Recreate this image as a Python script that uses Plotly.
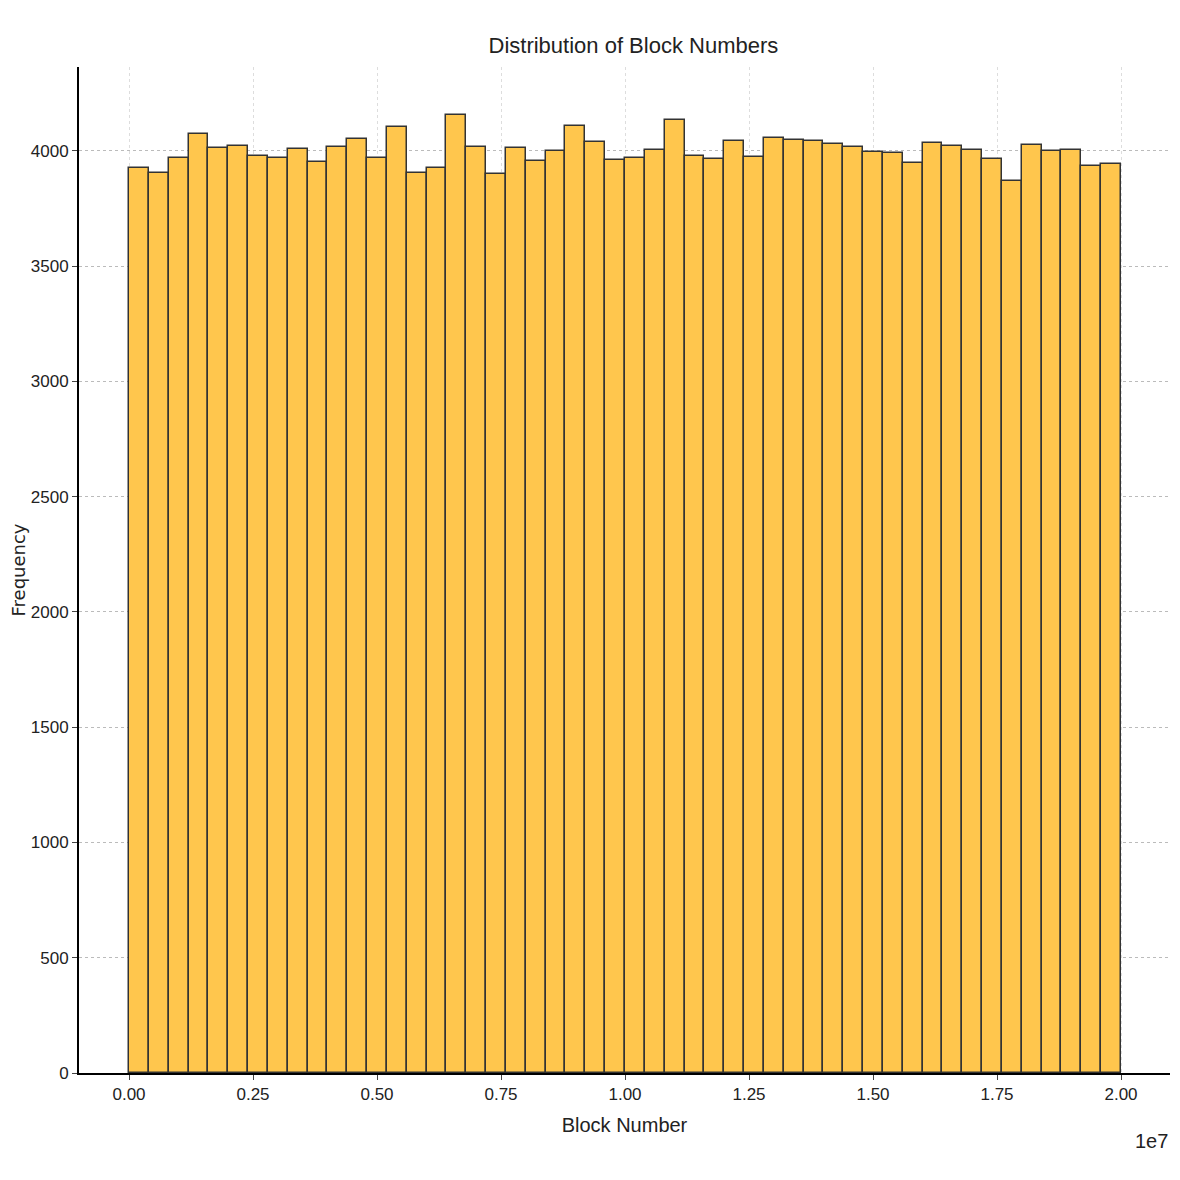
import plotly.graph_objects as go

bin_width = 400000
bin_starts = [i * bin_width for i in range(50)]
counts = [3926, 3904, 3969, 4073, 4012, 4021, 3978, 3969, 4008, 3952,
          4017, 4052, 3969, 4104, 3904, 3926, 4156, 4017, 3900, 4012,
          3956, 4000, 4108, 4039, 3961, 3969, 4004, 4134, 3978, 3965,
          4043, 3974, 4056, 4047, 4043, 4030, 4017, 3995, 3991, 3948,
          4034, 4021, 4004, 3965, 3869, 4026, 4000, 4004, 3935, 3943]
x_tick_vals = [0, 2.5e6, 5e6, 7.5e6, 1e7, 1.25e7, 1.5e7, 1.75e7, 2e7]
x_tick_text = ["0.00", "0.25", "0.50", "0.75", "1.00", "1.25", "1.50", "1.75", "2.00"]
y_tick_vals = [0, 500, 1000, 1500, 2000, 2500, 3000, 3500, 4000]

fig = go.Figure(go.Bar(
    x=[s + bin_width / 2 for s in bin_starts], y=counts, width=bin_width,
    marker=dict(color="#FFC64D", line=dict(color="#333333", width=1.5)),
))
font = "Liberation Sans"
fig.update_layout(
    width=1180, height=1180, paper_bgcolor="white", plot_bgcolor="white",
    margin=dict(l=71, r=18, t=59, b=115),
    title=dict(text="Distribution of Block Numbers", x=0.53, xanchor="center", y=0.975,
               font=dict(family=font, size=22, color="#222")),
    font=dict(family=font, size=17, color="#222"),
    showlegend=False, bargap=0,
)
fig.update_xaxes(range=[-1.008e6, 2.0988e7], tickvals=x_tick_vals, ticktext=x_tick_text,
                 showgrid=True, gridcolor="#dddddd", griddash="3px,3px", zeroline=False,
                 showline=True, linecolor="black", linewidth=2, ticks="outside", ticklen=5,
                 automargin=False,
                 title=dict(text="Block Number", font=dict(size=20), standoff=15))
fig.update_yaxes(range=[0, 4364], tickvals=y_tick_vals,
                 showgrid=True, gridcolor="#bbbbbb", griddash="3px,3px", zeroline=False,
                 showline=True, linecolor="black", linewidth=2, ticks="outside", ticklen=5,
                 automargin=False,
                 title=dict(text="Frequency", font=dict(family="DejaVu Sans", size=18), standoff=15))
fig.add_annotation(text="1e7", xref="paper", yref="paper", x=1, y=-0.055,
                   xanchor="right", yanchor="top", showarrow=False, font=dict(size=20))
fig.write_html("out.html")
